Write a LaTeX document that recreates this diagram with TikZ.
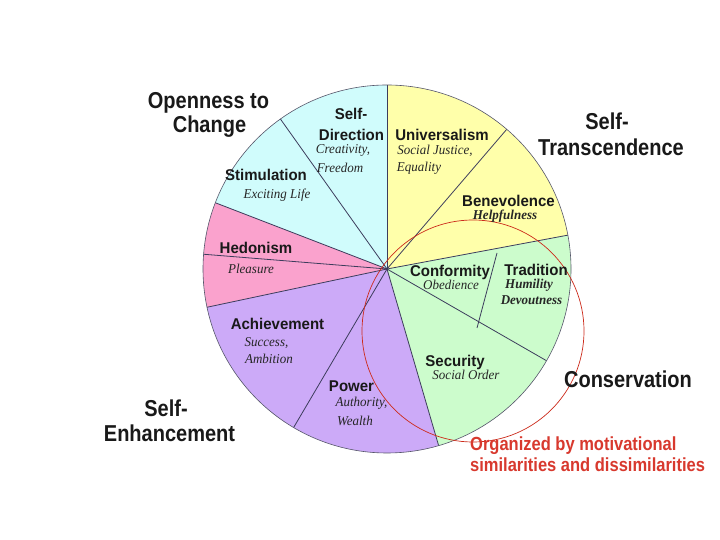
\documentclass[tikz,border=0pt]{standalone}
\usepackage{fontspec}
\usepackage{graphicx}
\setmainfont{Liberation Serif}
\newfontfamily\arialf{Liberation Sans}
\newcommand\vstr[1]{\scalebox{1}[1.15]{#1}}
\newcommand\vsml[1]{\scalebox{1}[1.04]{#1}}
\definecolor{cyanf}{HTML}{D0FCFC}
\definecolor{yellowf}{HTML}{FFFFAA}
\definecolor{greenf}{HTML}{CCFCCC}
\definecolor{pinkf}{HTML}{FAA2CD}
\definecolor{purplef}{HTML}{CCAAF8}
\definecolor{sepc}{HTML}{3C3C5C}
\definecolor{outc}{HTML}{55556A}
\definecolor{redc}{HTML}{CC2A1A}
\definecolor{redt}{HTML}{D8392E}
\begin{document}
\begin{tikzpicture}[x=1pt,y=1pt,
  outer/.style={font=\arialf\bfseries\fontsize{20}{24}\selectfont, inner sep=0pt, text=black!90},
  lab/.style={font=\arialf\bfseries\fontsize{15}{18}\selectfont, inner sep=0pt, text=black!90},
  sub/.style={font=\itshape\fontsize{13}{15}\selectfont, inner sep=0pt, text=black!85},
  subb/.style={font=\bfseries\itshape\fontsize{13}{15}\selectfont, inner sep=0pt, text=black!85},
  redlab/.style={font=\arialf\bfseries\fontsize{16.5}{19}\selectfont, inner sep=0pt, text=redt, anchor=west},
  sepline/.style={draw=sepc, line width=0.8pt}]
\useasboundingbox (0,0) rectangle (720,540);
\fill[white] (0,0) rectangle (720,540);
\coordinate (C) at (387,271);
% sectors
\fill[yellowf] (C) -- ++(10.6:184pt) arc[start angle=10.6,end angle=90,radius=184pt] -- cycle;
\fill[cyanf] (C) -- ++(90:184pt) arc[start angle=90,end angle=158.9,radius=184pt] -- cycle;
\fill[pinkf] (C) -- ++(158.9:184pt) arc[start angle=158.9,end angle=192,radius=184pt] -- cycle;
\fill[purplef] (C) -- ++(192:184pt) arc[start angle=192,end angle=286.3,radius=184pt] -- cycle;
\fill[greenf] (C) -- ++(286.3:184pt) arc[start angle=286.3,end angle=370.6,radius=184pt] -- cycle;
% separators
\foreach \a in {90,49.4,10.6,-29.9,-73.7,-120.5,192,175.4,158.9,125.4}
  \draw[sepline] (C) -- ++(\a:184pt);
\coordinate (t1) at (497,287);
\coordinate (t2) at (477,212);
\draw[sepline] (t1) -- (t2);
\draw[draw=outc, line width=0.6pt] (C) circle[radius=184pt];
% red circle
\coordinate (RC) at (473,209);
\draw[redc, line width=0.7pt] (RC) circle[radius=111pt];
% outer labels
\node[outer] (open1) at (208.5,437) {\vstr{Openness to}};
\node[outer] (open2) at (209.5,413) {\vstr{Change}};
\node[outer] (trans1) at (607,419) {\vstr{Self-}};
\node[outer] (trans2) at (611,393) {\vstr{Transcendence}};
\node[outer] (cons) at (628,161) {\vstr{Conservation}};
\node[outer] (enh1) at (166,132) {\vstr{Self-}};
\node[outer] (enh2) at (169.5,107) {\vstr{Enhancement}};
\node[redlab] (red1) at (470,94) {\vstr{Organized by motivational}};
\node[redlab] (red2) at (470,75) {\vstr{similarities and dissimilarities}};
% inner labels
\node[lab] (sd1) at (351,426) {\vsml{Self-}};
\node[lab] (sd2) at (351.5,405.5) {\vsml{Direction}};
\node[sub] (cr) at (343,389.5) {\vsml{Creativity,}};
\node[sub] (fr) at (340,372) {\vsml{Freedom}};
\node[lab] (un) at (442,405.5) {\vsml{Universalism}};
\node[sub] (sj) at (435,389) {\vsml{Social Justice,}};
\node[sub] (eq) at (419,372) {\vsml{Equality}};
\node[lab] (be) at (508.5,339.5) {\vsml{Benevolence}};
\node[subb] (he) at (505,323.5) {\vsml{Helpfulness}};
\node[lab] (st) at (266,365) {\vsml{Stimulation}};
\node[sub] (el) at (277,345) {\vsml{Exciting Life}};
\node[lab] (hd) at (256,292) {\vsml{Hedonism}};
\node[sub] (pl) at (251,271) {\vsml{Pleasure}};
\node[lab] (co) at (450,268) {\vsml{Conformity}};
\node[sub] (ob) at (451,255) {\vsml{Obedience}};
\node[lab] (tr) at (536,270.5) {\vsml{Tradition}};
\node[subb] (hu) at (529,255) {\vsml{Humility}};
\node[subb] (dv) at (531.5,240) {\vsml{Devoutness}};
\node[lab] (ac) at (277.5,216) {\vsml{Achievement}};
\node[sub] (su) at (266.5,197) {\vsml{Success,}};
\node[sub] (am) at (269,181) {\vsml{Ambition}};
\node[lab] (se) at (455,178) {\vsml{Security}};
\node[sub] (so) at (466,165) {\vsml{Social Order}};
\node[lab] (po) at (351.5,154) {\vsml{Power}};
\node[sub] (au) at (361.5,137) {\vsml{Authority,}};
\node[sub] (we) at (355,119) {\vsml{Wealth}};
\end{tikzpicture}
\end{document}
